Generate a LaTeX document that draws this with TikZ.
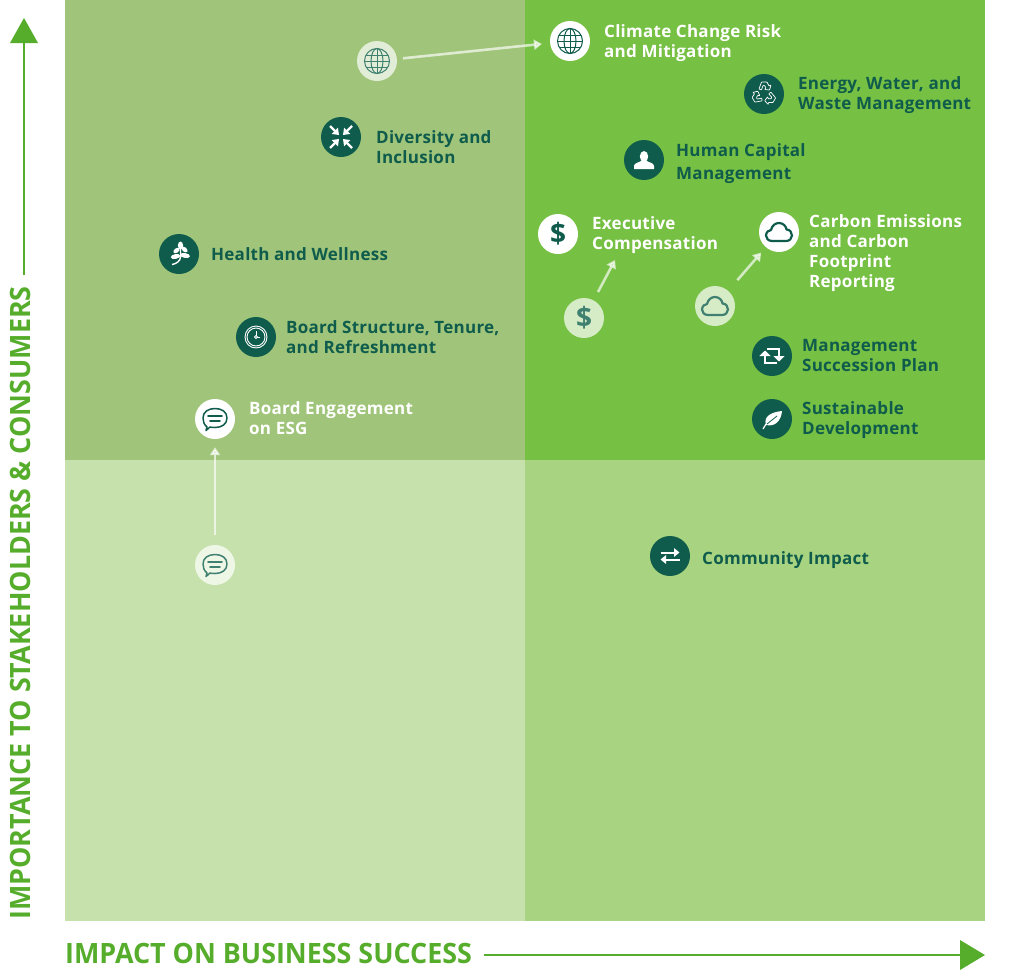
\documentclass[tikz,border=0pt]{standalone}
\usepackage{fontspec}
\setmainfont{Open Sans}
\newfontfamily\labelfont{Open Sans}[LetterSpace=1.5]
\newfontfamily\axisfont{Open Sans}[FakeStretch=0.96]
\usetikzlibrary{arrows.meta}
\definecolor{qtl}{HTML}{A0C57A}
\definecolor{qtr}{HTML}{76C043}
\definecolor{qbl}{HTML}{C6E1AC}
\definecolor{qbr}{HTML}{A8D380}
\definecolor{deep}{HTML}{0F5C4C}
\definecolor{deepfade}{HTML}{3F8070}
\definecolor{axisgreen}{HTML}{56AD2B}
\tikzset{
  x=1pt,y=-1pt,
  quad/.style={fill=#1,draw=none},
  dark/.style={circle,fill=deep,minimum size=40pt,inner sep=0pt},
  lit/.style={circle,fill=white,minimum size=40pt,inner sep=0pt},
  ghost/.style={circle,fill=white,fill opacity=.7,minimum size=40pt,inner sep=0pt},
  lab/.style={anchor=west,align=left,inner sep=0pt,font=\labelfont\bfseries\fontsize{17}{20}\selectfont},
  labdark/.style={lab,text=deep},
  lablit/.style={lab,text=white},
  mover/.style={draw=white,fill=white,opacity=.65,line width=2.6pt,-{Triangle[length=8pt,width=10pt]}},
  axisline/.style={draw=axisgreen,line width=2pt},
  axishead/.style={fill=axisgreen,draw=none},
  axislab/.style={text=axisgreen,inner sep=0pt,font=\axisfont\bfseries\fontsize{28}{28}\selectfont},
}
% icons, drawn round a node centre
\newcommand{\iconglobe}[2]{\begin{scope}[shift={(#1)},draw=#2,line width=1pt]
 \draw (0,0) circle[radius=12.5];
 \draw (0,0) ellipse[x radius=6,y radius=12.5];
 \draw (0,-12.5) -- (0,12.5) (-12.5,0) -- (12.5,0) (-11,-6) -- (11,-6) (-11,6) -- (11,6);
 \end{scope}}
\newcommand{\iconchat}[2]{\begin{scope}[shift={(#1)},draw=#2,line width=1.5pt,line join=round,line cap=round]
 \draw (-8,8) .. controls (-11,5.5) and (-12,2.5) .. (-12,-1) .. controls (-12,-7) and (-7,-10.5) .. (0,-10.5) .. controls (7,-10.5) and (12,-7) .. (12,-1) .. controls (12,5) and (7,8.5) .. (0,8.5) .. controls (-2,8.5) and (-4,8.5) .. (-5,8) -- (-9,11.5) .. controls (-8.5,10.5) and (-8,9.5) .. (-8,8);
 \draw[line width=1.8pt] (-7,-3) -- (7,-3) (-5,2) -- (5,2);
 \end{scope}}
\newcommand{\iconcloud}[2]{\begin{scope}[shift={(#1)},draw=#2,line width=2.2pt,line join=round]
 \draw (-7,9) .. controls (-11,9) and (-13,6) .. (-13,3.5) .. controls (-13,0) and (-10,-2) .. (-8,-2) .. controls (-7,-7) and (-3,-9) .. (0,-9) .. controls (4,-9) and (7,-6) .. (7.5,-2.5) .. controls (11,-2.5) and (13,0.5) .. (13,3.5) .. controls (13,6.5) and (10.5,9) .. (7,9) -- cycle;
 \end{scope}}
\newcommand{\iconrecycle}[1]{\begin{scope}[shift={(#1)},draw=white,line width=.7pt,line join=round]
 \foreach \a in {0,120,240}{
  \begin{scope}[rotate=\a]
  \draw[rounded corners=.5pt] (-5,-5) -- (-2.5,-12) -- (3,-12) -- (5,-8) -- (7,-9) -- (5.5,-4) -- (0.5,-4.5) -- (2,-6) -- (0.5,-8.5) -- (-1,-8.5) -- (-2.5,-4) -- cycle;
  \end{scope}}
 \end{scope}}
\newcommand{\iconcompress}[1]{\begin{scope}[shift={(#1)},draw=white,line width=2.2pt,-{Triangle[length=6pt,width=8.5pt]},white]
 \draw (-11,-11) -- (-2,-2);
 \draw (11,-11) -- (2,-2);
 \draw (-11,11) -- (-2,2);
 \draw (11,11) -- (2,2);
 \end{scope}}
\newcommand{\iconperson}[1]{\begin{scope}[shift={(#1)},fill=white]
 \fill (0,-3.5) ellipse[x radius=4.2,y radius=5.5];
 \fill (-10,9) -- (-10,6) .. controls (-10,3) and (-5,2.5) .. (-3,1) -- (3,1) .. controls (5,2.5) and (10,3) .. (10,6) -- (10,9) -- cycle;
 \end{scope}}
\newcommand{\iconsprig}[1]{\begin{scope}[shift={(#1)},fill=white]
 \fill (1.5,-8.5) ellipse[x radius=2.6,y radius=4];
 \fill[rotate around={-55:(-2.5,-3.5)}] (-2.5,-3.5) ellipse[x radius=2.2,y radius=3.6];
 \fill[rotate around={50:(5.5,-4.5)}] (5.5,-4.5) ellipse[x radius=2.2,y radius=3.6];
 \fill[rotate around={10:(-3.5,2.5)}] (-3.5,2.5) ellipse[x radius=4.8,y radius=2.4];
 \fill[rotate around={-10:(6,1.5)}] (6,1.5) ellipse[x radius=5,y radius=2.4];
 \draw[white,line width=1.4pt] (1.5,-6) -- (1.5,3) .. controls (1.5,7) and (-3,10) .. (-7,10.5);
 \end{scope}}
\newcommand{\iconclock}[1]{\begin{scope}[shift={(#1)},draw=white,line width=.9pt]
 \draw (0,0) circle[radius=11];
 \draw (0,0) circle[radius=9];
 \draw (0,0) circle[radius=1.4];
 \draw (0,-1.4) -- (0,-6.5) (1.4,0) -- (4,0);
 \end{scope}}
\newcommand{\iconretweet}[1]{\begin{scope}[shift={(#1)},draw=white,line width=2.6pt,white]
 \draw[-{Triangle[length=5.5pt,width=11pt]}] (5,7) -- (-7,7) -- (-7,-5.5);
 \draw[-{Triangle[length=5.5pt,width=11pt]}] (-5,-7) -- (7,-7) -- (7,5.5);
 \end{scope}}
\newcommand{\iconleaf}[1]{\begin{scope}[shift={(#1)},fill=white]
 \fill (-6,6) .. controls (-9,-3) and (0,-7) .. (10,-8) .. controls (9,2) and (3,8) .. (-6,6) -- cycle;
 \draw[deep,line width=.8pt] (-5,5) -- (5,-3);
 \draw[white,line width=1.2pt] (-6,5) -- (-9,10);
 \end{scope}}
\newcommand{\iconswap}[1]{\begin{scope}[shift={(#1)},draw=white,line width=2pt,white]
 \draw[-{Triangle[length=5.5pt,width=8.5pt]}] (-9.5,-3.5) -- (9.5,-3.5);
 \draw[-{Triangle[length=5.5pt,width=8.5pt]}] (9.5,3.5) -- (-9.5,3.5);
 \end{scope}}
\begin{document}
\begin{tikzpicture}
\useasboundingbox (0,0) rectangle (1024,977);
\path[quad=qtl] (65,0) rectangle (525,460);
\path[quad=qtr] (525,0) rectangle (985,460);
\path[quad=qbl] (65,460) rectangle (525,921);
\path[quad=qbr] (525,460) rectangle (985,921);

% nodes
\node[ghost] (gglobe) at (377,61) {};
\node[lit] (nclimate) at (570,41) {};
\node[dark] (nenergy) at (764,94) {};
\node[dark] (ndiv) at (341,137) {};
\node[dark] (nhuman) at (644,160) {};
\node[lit] (nexec) at (558,234) {};
\node[lit] (ncarbon) at (779,232) {};
\node[dark] (nhealth) at (179,254) {};
\node[dark] (nboard) at (256,337) {};
\node[lit] (nengage) at (215,419) {};
\node[ghost] (gchat) at (215,565) {};
\node[dark] (nsucc) at (772,356) {};
\node[dark] (nsust) at (772,419) {};
\node[dark] (ncomm) at (670,556) {};
\node[ghost] (gdollar) at (584,318) {};
\node[ghost] (gcloud) at (715,306) {};

% icons
\iconglobe{gglobe.center}{deepfade}
\iconglobe{nclimate.center}{deep}
\iconrecycle{nenergy.center}
\iconcompress{ndiv.center}
\iconperson{nhuman.center}
\iconcloud{ncarbon.center}{deep}
\iconcloud{gcloud.center}{deepfade}
\iconsprig{nhealth.center}
\iconclock{nboard.center}
\iconchat{nengage.center}{deep}
\iconchat{gchat.center}{deepfade}
\iconretweet{nsucc.center}
\iconleaf{nsust.center}
\iconswap{ncomm.center}
\node[text=deep,inner sep=0pt,font=\bfseries\fontsize{28}{28}\selectfont] (dollar) at (nexec.center) {\$};
\node[text=deepfade,inner sep=0pt,font=\bfseries\fontsize{28}{28}\selectfont] (dollarg) at (gdollar.center) {\$};

% labels
\node[lablit] (tclimate) at (604,43) {Climate Change Risk\\and Mitigation};
\node[labdark] (tenergy) at (798,95) {Energy, Water, and\\Waste Management};
\node[labdark] (tdiv) at (376,147) {Diversity and\\Inclusion};
\node[labdark] (thuman) at (676,164) {Human Capital\\[3pt]Management};
\node[lablit] (texec) at (592,235) {Executive\\Compensation};
\node[lablit] (tcarbon) at (809,253) {Carbon Emissions\\and Carbon\\Footprint\\Reporting};
\node[labdark] (thealth) at (211,254) {Health and Wellness};
\node[labdark] (tboard) at (286,337) {Board Structure, Tenure,\\and Refreshment};
\node[lablit] (tengage) at (249,418) {Board Engagement\\on ESG};
\node[labdark] (tsucc) at (802,356) {Management\\Succession Plan};
\node[labdark] (tsust) at (802,420) {Sustainable\\Development};
\node[labdark] (tcomm) at (702,560) {Community Impact};

% movement connectors
\coordinate (edollar) at (615,260);
\coordinate (sdollar) at (598,292);
\draw[mover,shorten <=6pt,shorten >=8pt] (gglobe) -- (nclimate);
\draw[mover,shorten <=10pt,shorten >=8pt] (gchat) -- (nengage);
\draw[mover,shorten <=14pt,shorten >=7pt] (gcloud) -- (ncarbon);
\draw[mover] (sdollar) -- (edollar);

% axes
\node[axislab,anchor=west] (xlab) at (65,953) {IMPACT ON BUSINESS SUCCESS};
\coordinate (xtip) at (985,955);
\coordinate (xhead) at (960,955);
\draw[axisline] (484,955) coordinate (xstart) -- (xhead);
\path[axishead] (xtip) -- (960,940) -- (960,970) -- cycle;
\node[axislab,rotate=90,anchor=west] (ylab) at (20,920) {IMPORTANCE TO STAKEHOLDERS \& CONSUMERS};
\coordinate (ytip) at (24,18);
\coordinate (yhead) at (24,43);
\draw[axisline] (24,275) coordinate (ystart) -- (yhead);
\path[axishead] (ytip) -- (10,43) -- (38,43) -- cycle;
\end{tikzpicture}
\end{document}
